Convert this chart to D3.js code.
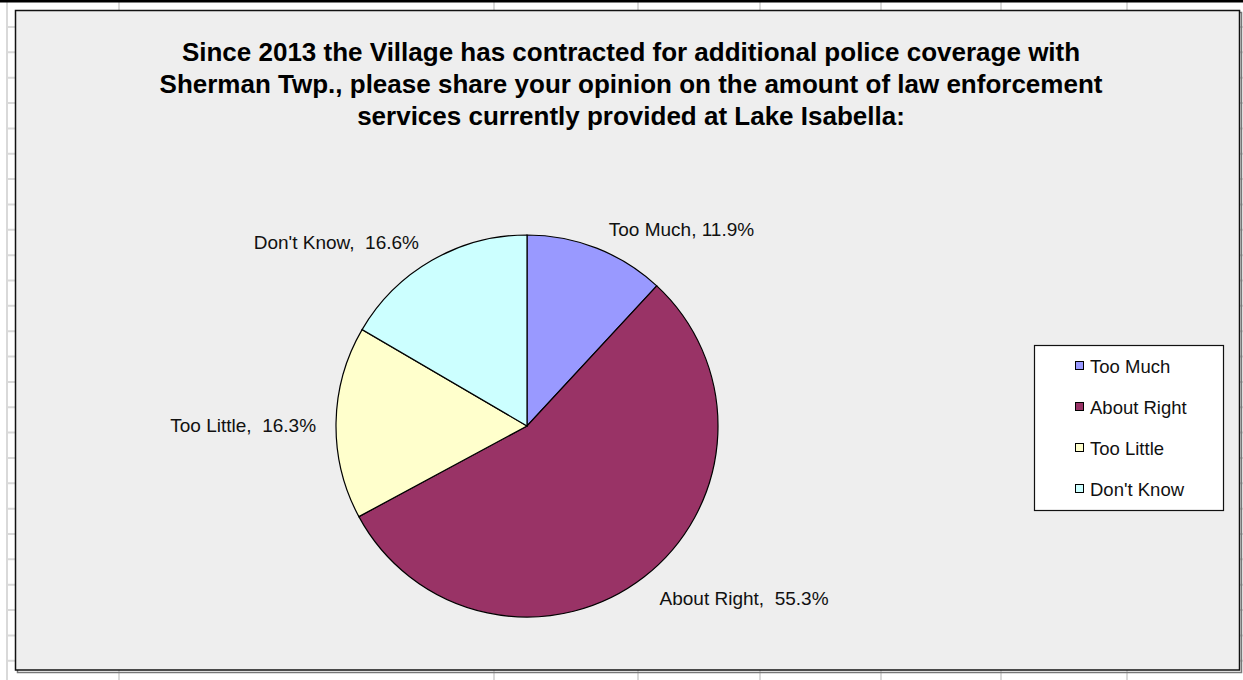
<!DOCTYPE html>
<html>
<head>
<meta charset="utf-8">
<script src="https://cdn.jsdelivr.net/npm/d3@7"></script>
<style>
  body { margin: 0; background: #fff; }
  svg { display: block; font-family: "Liberation Sans", Arial, sans-serif; }
  text { white-space: pre; }
</style>
</head>
<body>
<script>
'use strict';

const categories = ["Too Much", "About Right", "Too Little", "Don't Know"];
const shares = [11.9, 55.3, 16.3, 16.6];
const labelText = ["Too Much, 11.9%", "About Right,  55.3%", "Too Little,  16.3%", "Don't Know,  16.6%"];
const titleLines = [
  "Since 2013 the Village has contracted for additional police coverage with",
  "Sherman Twp., please share your opinion on the amount of law enforcement",
  "services currently provided at Lake Isabella:"
];
const sheetCols = [7, 119, 494, 638, 760, 881, 1001, 1127];

const colors = {
  "Too Much": "#9999FF",
  "About Right": "#993366",
  "Too Little": "#FFFFCC",
  "Don't Know": "#CCFFFF"
};

const width = 1243, height = 680;

const svg = d3.select('body')
  .append('svg')
  .attr('width', width)
  .attr('height', height);

drawSheet();
drawFrame();
drawTitle();
drawPie();
drawLegend();

// spreadsheet cells behind the chart
function drawSheet() {
  let rows = d3.range(27, height, 25.35);
  svg.selectAll('.row')
    .data(rows)
    .enter()
    .append('line')
      .attr('x1', 7).attr('x2', width)
      .attr('y1', d => d).attr('y2', d => d)
      .attr('stroke', '#d9d9d9')
      .attr('stroke-width', 2);
  svg.selectAll('.col')
    .data(sheetCols)
    .enter()
    .append('line')
      .attr('x1', d => d).attr('x2', d => d)
      .attr('y1', 2).attr('y2', height)
      .attr('stroke', '#d9d9d9')
      .attr('stroke-width', 2);
  svg.append('rect')
    .attr('x', 0).attr('y', 0)
    .attr('width', width).attr('height', 2.5)
    .attr('fill', '#000');
}

function drawFrame() {
  // shadow
  svg.append('rect')
    .attr('x', 17.5).attr('y', 12.5)
    .attr('width', 1224).attr('height', 660)
    .attr('fill', 'none')
    .attr('stroke', '#777')
    .attr('stroke-width', 1.5);
  svg.append('rect')
    .attr('x', 15.5).attr('y', 10.5)
    .attr('width', 1224).attr('height', 659.5)
    .attr('fill', '#eeeeee')
    .attr('stroke', '#111')
    .attr('stroke-width', 1.5);
}

function drawTitle() {
  svg.append('g')
    .selectAll('text')
    .data(titleLines)
    .enter()
    .append('text')
      .attr('x', 631)
      .attr('y', (d, i) => 61 + i * 32)
      .attr('text-anchor', 'middle')
      .style('font-size', '26px')
      .style('font-weight', 'bold')
      .attr('fill', '#000')
      .text(d => d);
}

function drawPie() {
  const cx = 527, cy = 426, r = 191;
  let data = categories.map((c, i) => ({ name: c, value: shares[i], label: labelText[i] }));

  let pie = d3.pie()
    .sort(null)
    .value(d => d.value);
  let arc = d3.arc()
    .innerRadius(0)
    .outerRadius(r);

  let g = svg.append('g')
    .attr('transform', `translate(${cx},${cy})`);

  let arcs = pie(data);

  g.selectAll('path')
    .data(arcs)
    .enter()
    .append('path')
      .attr('d', arc)
      .attr('fill', d => colors[d.data.name])
      .attr('stroke', '#000')
      .attr('stroke-width', 1.2);

  // labels sit just outside the rim at each slice's middle angle
  g.selectAll('.lbl')
    .data(arcs)
    .enter()
    .append('text')
      .attr('class', 'lbl')
      .each(function(d) {
        let a = (d.startAngle + d.endAngle) / 2;
        let s = Math.sin(a), c = Math.cos(a);
        let px = (r + 14) * s + (s > 0 ? 7 : -6);
        let py = -(r + 14) * c + (1 - c) / 2 * 19;
        d3.select(this)
          .attr('x', px)
          .attr('y', py)
          .attr('text-anchor', s > 0 ? 'start' : 'end');
      })
      .style('font-size', '19px')
      .attr('fill', '#111')
      .text(d => d.data.label);
}

function drawLegend() {
  let lg = svg.append('g');
  lg.append('rect')
    .attr('x', 1034.5).attr('y', 345.5)
    .attr('width', 189).attr('height', 165)
    .attr('fill', '#fff')
    .attr('stroke', '#111')
    .attr('stroke-width', 1.2);

  let y = d3.scalePoint()
    .domain(categories)
    .range([366, 489]);

  categories.forEach(function(c) {
    lg.append('rect')
      .attr('x', 1075.5)
      .attr('y', y(c) - 4.5)
      .attr('width', 8)
      .attr('height', 8)
      .attr('fill', colors[c])
      .attr('stroke', '#000')
      .attr('stroke-width', 1);
    lg.append('text')
      .attr('x', 1090)
      .attr('y', y(c) + 6.5)
      .style('font-size', '18.5px')
      .attr('fill', '#111')
      .text(c);
  });
}
</script>
</body>
</html>
